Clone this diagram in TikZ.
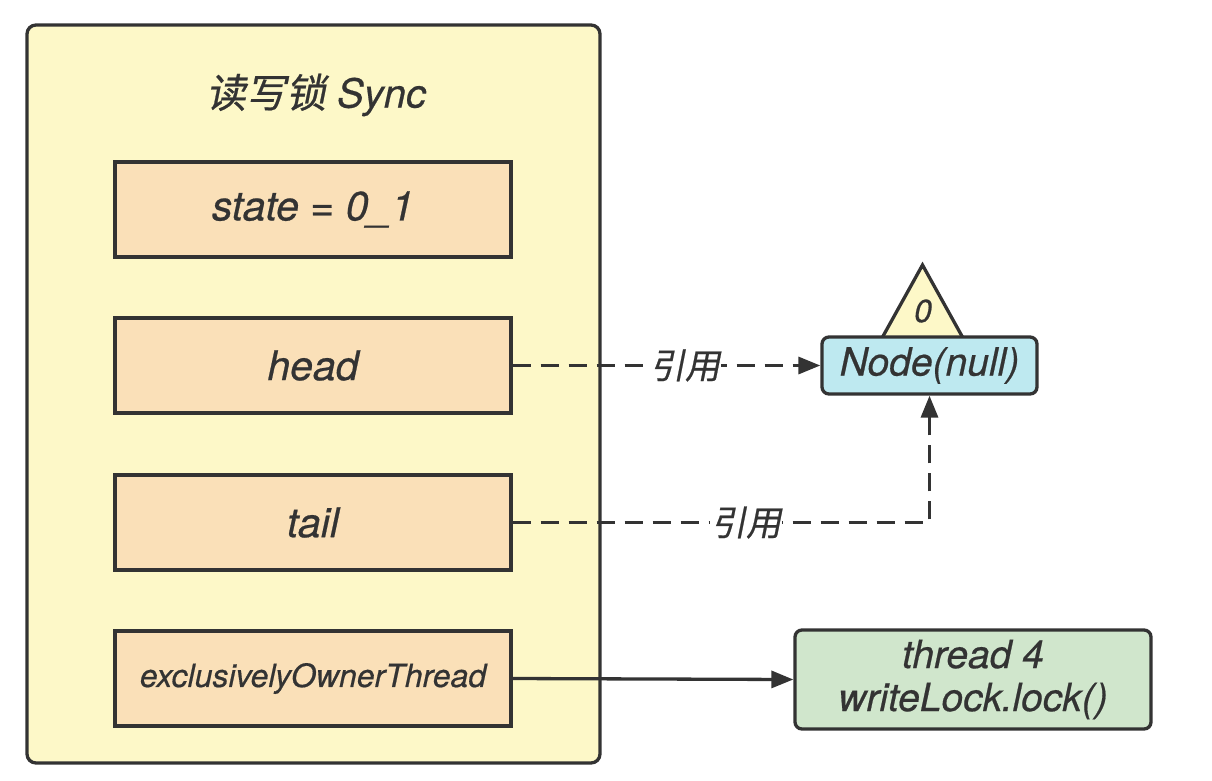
\documentclass[tikz,border=0pt]{standalone}
\usepackage{fontspec}
\setmainfont{TeX Gyre Heros}[ItalicFeatures={FakeBold=0.5}]
\newfontfamily\cjk{Noto Sans CJK SC}[FakeSlant=0.2, FakeBold=0.6]
\usetikzlibrary{arrows.meta}
\definecolor{ink}{HTML}{333333}
\definecolor{syncfill}{HTML}{FDF8C8}
\definecolor{fieldfill}{HTML}{FAE0B8}
\definecolor{nodefill}{HTML}{BEE9F0}
\definecolor{threadfill}{HTML}{D0E6CC}
\definecolor{trifill}{HTML}{FDF8C8}
\begin{document}
\begin{tikzpicture}[x=1pt,y=-1pt,
  outline/.style={draw=ink, line width=3.3pt, text=ink, inner sep=0pt},
  field/.style={outline, fill=fieldfill, minimum width=396pt, minimum height=95pt,
    font=\fontsize{41}{48}\selectfont\itshape},
  refnode/.style={outline, fill=nodefill, rounded corners=7pt, minimum width=215pt, minimum height=57pt,
    font=\fontsize{39}{46}\selectfont\itshape},
  threadbox/.style={outline, fill=threadfill, rounded corners=7pt, minimum width=356pt, minimum height=99pt,
    font=\fontsize{39}{43}\selectfont\itshape, align=center},
  conn/.style={draw=ink, line width=3.3pt, -{Triangle[length=22pt,width=17pt]}},
  dashconn/.style={conn, dash pattern=on 18pt off 10pt},
  lbl/.style={fill=white, inner sep=1pt, text=ink, font=\fontsize{35}{40}\selectfont\cjk}
]
\useasboundingbox (0,0) rectangle (1212,780);
% outer Sync container
\node[outline, fill=syncfill, rounded corners=9pt, minimum width=573pt, minimum height=738pt] (sync) at (313.5,394) {};
\node[text=ink, font=\fontsize{40}{46}\selectfont] (title) at (316,95) {{\cjk 读写锁} \itshape Sync};
% fields
\node[field] (state) at (313,209.5) {state = 0\_1};
\node[field] (head) at (313,365.5) {head};
\node[field] (tail) at (313,522.5) {tail};
\node[field, font=\fontsize{32}{38}\selectfont\itshape] (excl) at (313,678.5) {exclusivelyOwnerThread};
% triangle marker
\coordinate (tA) at (922.5,265);
\coordinate (tB) at (882,338);
\coordinate (tC) at (963,338);
\draw[draw=ink, line width=3.3pt, fill=trifill, line join=miter] (tA) -- (tB) -- (tC) -- cycle;
\node[text=ink, font=\fontsize{32}{36}\selectfont\itshape] (zero) at (923,311) {0};
% Node(null)
\node[refnode] (nnull) at (929.5,365.5) {Node(null)};
% thread box
\node[threadbox] (thread) at (973,679.5) {thread 4\\writeLock.lock()};
% connectors
\draw[dashconn] (head.east) -- node[lbl, pos=0.56] (l1) {引用} (nnull.west);
\draw[dashconn] (tail.east) -| node[lbl, pos=0.28] (l2) {引用} (nnull.south);
\draw[conn] (excl.east) -- (thread.west);
\end{tikzpicture}
\end{document}
